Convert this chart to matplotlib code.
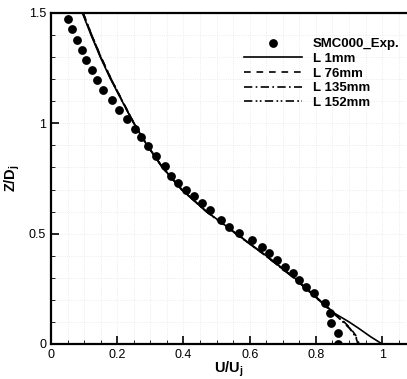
import numpy as np
import matplotlib
matplotlib.use("Agg")
import matplotlib.pyplot as plt
from matplotlib.ticker import MultipleLocator, FormatStrFormatter

plt.rcParams['font.family'] = ['Liberation Sans', 'DejaVu Sans']
plt.rcParams['mathtext.fontset'] = 'custom'
plt.rcParams['mathtext.rm'] = 'Liberation Sans'
plt.rcParams['mathtext.bf'] = 'Liberation Sans:bold'

# experimental data (U/Uj, Z/Dj)
exp_u = [0.050, 0.063, 0.078, 0.093, 0.107, 0.123, 0.140, 0.158, 0.183, 0.205,
         0.229, 0.253, 0.272, 0.294, 0.316, 0.344, 0.363, 0.385, 0.408, 0.432,
         0.455, 0.481, 0.514, 0.539, 0.568, 0.606, 0.636, 0.659, 0.683, 0.707,
         0.730, 0.749, 0.770, 0.795, 0.826, 0.843, 0.847, 0.868, 0.868]
exp_z = [1.471, 1.426, 1.377, 1.333, 1.288, 1.243, 1.198, 1.152, 1.107, 1.062,
         1.018, 0.974, 0.939, 0.897, 0.852, 0.807, 0.761, 0.731, 0.698, 0.669,
         0.638, 0.607, 0.562, 0.531, 0.503, 0.471, 0.441, 0.411, 0.381, 0.350,
         0.320, 0.290, 0.260, 0.230, 0.184, 0.139, 0.094, 0.048, 0.002]

# simulated profiles
z_sim = [1.5, 1.4, 1.3, 1.2, 1.1, 1.0, 0.9, 0.8, 0.7, 0.6, 0.5, 0.4, 0.3, 0.2,
         0.14, 0.10, 0.07, 0.033, 0.0]
u_1mm = [0.095, 0.121, 0.149, 0.180, 0.215, 0.250, 0.290, 0.337, 0.395, 0.470,
         0.560, 0.650, 0.735, 0.810, 0.855, 0.900, 0.930, 0.965, 1.0]
u_76mm = [0.097, 0.123, 0.151, 0.182, 0.216, 0.251, 0.291, 0.337, 0.395, 0.470,
          0.560, 0.650, 0.735, 0.810, 0.855, 0.885, 0.905, 0.923, 0.930]
u_135mm = [0.097, 0.123, 0.151, 0.182, 0.216, 0.251, 0.291, 0.337, 0.394, 0.469,
           0.558, 0.648, 0.733, 0.808, 0.852, 0.882, 0.902, 0.920, 0.927]
u_152mm = [0.096, 0.122, 0.150, 0.181, 0.215, 0.250, 0.290, 0.336, 0.394, 0.469,
           0.558, 0.648, 0.733, 0.808, 0.853, 0.883, 0.903, 0.921, 0.928]

fig = plt.figure(figsize=(4.07, 3.79), dpi=100)
ax = fig.add_axes([0.1253, 0.0924, 0.8747, 0.8733])

ax.plot(exp_u, exp_z, 'o', color='black', ms=5.3, label='SMC000_Exp.')
ax.plot(u_1mm, z_sim, '-', color='black', lw=1.2, label='L 1mm')
ax.plot(u_76mm, z_sim, color='black', lw=1.2, ls=(0, (4, 3.5)), label='L 76mm')
ax.plot(u_135mm, z_sim, color='black', lw=1.2, ls=(0, (5, 2, 1, 2)), label='L 135mm')
ax.plot(u_152mm, z_sim, color='black', lw=1.2, ls=(0, (5, 2, 1, 1.5, 1, 2)), label='L 152mm')

ax.set_xlim(0, 1.075)
ax.set_ylim(0, 1.5)
ax.xaxis.set_major_locator(MultipleLocator(0.2))
ax.xaxis.set_minor_locator(MultipleLocator(0.05))
ax.yaxis.set_major_locator(MultipleLocator(0.5))
ax.yaxis.set_minor_locator(MultipleLocator(0.1))
ax.xaxis.set_major_formatter(FormatStrFormatter('%g'))
ax.yaxis.set_major_formatter(FormatStrFormatter('%g'))
ax.tick_params(which='major', direction='in', length=6, width=1.2, labelsize=9, top=False, right=False)
ax.tick_params(which='minor', direction='in', length=3, width=0.6, top=False, right=False)
ax.grid(which='both', color='#e6e6e6', linestyle=':', linewidth=0.6)
for side in ['left', 'bottom', 'top']:
    ax.spines[side].set_linewidth(1.6)
ax.spines['right'].set_visible(False)

ax.set_xlabel(r'$\mathbf{U/U_j}$', fontsize=10.5, labelpad=-1)
ax.set_ylabel(r'$\mathbf{Z/D_j}$', fontsize=10.5, labelpad=5)

leg = ax.legend(loc='upper right', bbox_to_anchor=(1.012, 0.96), frameon=False,
                prop={'weight': 'bold', 'size': 9.5}, handlelength=4.4,
                labelspacing=0.18, handletextpad=0.8, numpoints=1)

fig.savefig('out.png', dpi=100)
